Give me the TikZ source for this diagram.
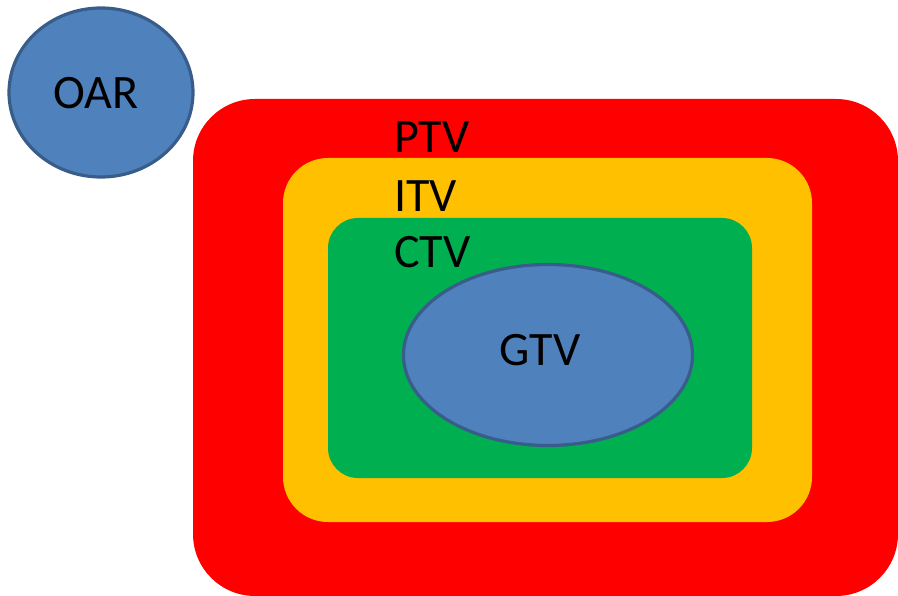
\documentclass[tikz,border=0pt]{standalone}
\usepackage{fontspec}
\setmainfont{Carlito}
\usetikzlibrary{shapes.geometric}

\definecolor{ptvred}{HTML}{FF0000}
\definecolor{itvorange}{HTML}{FFC000}
\definecolor{ctvgreen}{HTML}{00B050}
\definecolor{volblue}{HTML}{4F81BD}
\definecolor{voledge}{HTML}{385D8A}

\tikzset{
  margin/.style={rectangle,inner sep=0pt,draw=none},
  organ/.style={ellipse,inner sep=0pt,fill=volblue,draw=voledge,line width=3.2pt},
  tag/.style={anchor=base west,inner sep=0pt,font=\fontsize{48}{52}\selectfont},
  voltext/.style={inner sep=0pt,font=\fontsize{48}{52}\selectfont}
}

\begin{document}
\begin{tikzpicture}[x=1pt,y=-1pt]
\useasboundingbox (0,0) rectangle (898,596);

% Margins
\node[margin,fill=ptvred,rounded corners=62pt,minimum width=705pt,minimum height=497pt] (ptv) at (545.5,347.5) {};
\node[margin,fill=itvorange,rounded corners=45pt,minimum width=529pt,minimum height=364pt] (itv) at (547.5,340) {};
\node[margin,fill=ctvgreen,rounded corners=30pt,minimum width=424pt,minimum height=260pt] (ctv) at (540,348) {};

% Volumes
\node[organ,minimum width=289pt,minimum height=181pt] (gtv) at (548,355) {};
\node[organ,minimum width=184pt,minimum height=169pt] (oar) at (101,92.5) {};

% Labels
\node[voltext] (gtvlabel) at (540,350) {GTV};
\node[voltext] (oarlabel) at (96,93) {OAR};
\node[tag] (ptvlabel) at (394,153) {PTV};
\node[tag] (itvlabel) at (394,212) {ITV};
\node[tag] (ctvlabel) at (394,268) {CTV};

\end{tikzpicture}
\end{document}
